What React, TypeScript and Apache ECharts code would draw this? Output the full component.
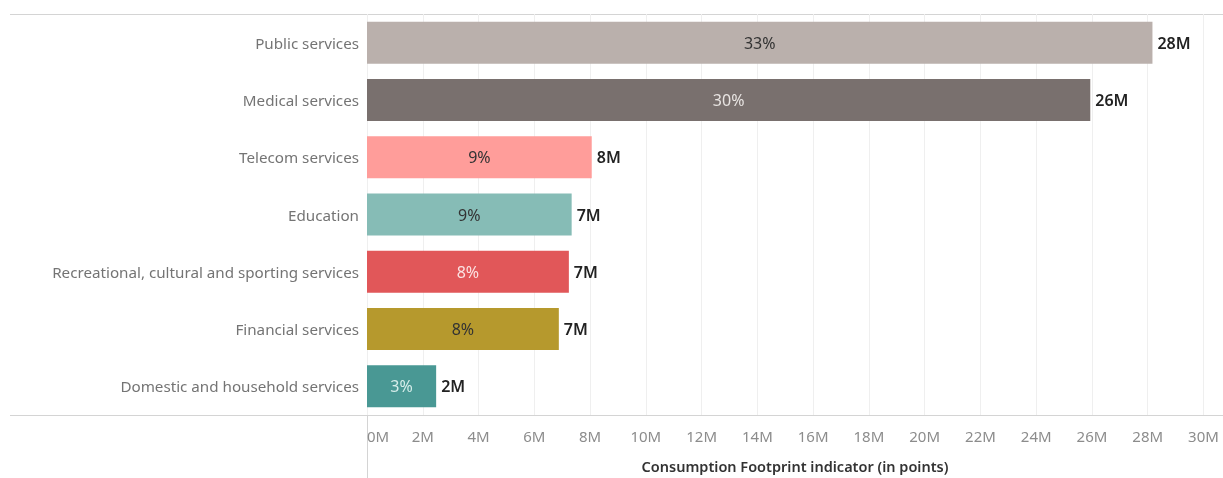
import React, { useEffect, useRef } from "react";
import * as echarts from "echarts";

const categories = [
  "Public services",
  "Medical services",
  "Telecom services",
  "Education",
  "Recreational, cultural and sporting services",
  "Financial services",
  "Domestic and household services",
];
const values = [28.17e6, 25.94e6, 8.06e6, 7.34e6, 7.24e6, 6.88e6, 2.48e6];
const valueLabels = ["28M", "26M", "8M", "7M", "7M", "7M", "2M"];
const percentLabels = ["33%", "30%", "9%", "9%", "8%", "8%", "3%"];
const colors = ["#BAB0AC", "#79706E", "#FF9D9A", "#86BCB6", "#E15759", "#B6992D", "#499894"];
const percentColors = ["#333333", "#E8E4E2", "#333333", "#333333", "#FBE2E2", "#333333", "#D6EDEA"];
const axisTitle = "Consumption Footprint indicator (in points)";

const FONT = "'Noto Sans', sans-serif";

export default function App() {
  const ref = useRef<HTMLDivElement>(null);
  useEffect(() => {
    if (!ref.current) return;
    const chart = echarts.init(ref.current, undefined, { renderer: "svg" });
    const GL = 367;
    const GT = 14;
    const GB = 415;
    chart.setOption({
      animation: false,
      textStyle: { fontFamily: FONT },
      grid: { left: GL, top: GT, right: 0, bottom: 478 - GB, containLabel: false },
      xAxis: {
        type: "value",
        min: 0,
        max: 30.7e6,
        interval: 2e6,
        axisLine: { show: false },
        axisTick: { show: false },
        splitLine: { show: true, lineStyle: { color: "#EFEFEF", width: 1 } },
        axisLabel: {
          color: "#8C8C8C",
          fontSize: 15,
          fontFamily: FONT,
          margin: 13,
          showMaxLabel: false,
          alignMinLabel: "left",
          formatter: (v: number) => `${Math.round(v / 1e6)}M`,
        },
        name: axisTitle,
        nameLocation: "middle",
        nameGap: 43,
        nameTextStyle: { color: "#333", fontSize: 14.5, fontWeight: 600, fontFamily: FONT },
      },
      yAxis: {
        type: "category",
        data: categories,
        inverse: true,
        axisLine: { show: false },
        axisTick: { show: false },
        splitLine: { show: false },
        axisLabel: { color: "#747474", fontSize: 15.2, fontFamily: FONT, margin: 8 },
      },
      series: [
        {
          type: "bar",
          barWidth: 42,
          data: values.map((v, i) => ({
            value: v,
            itemStyle: { color: colors[i] },
            label: { color: percentColors[i] },
          })),
          label: {
            show: true,
            position: "inside",
            fontSize: 16,
            fontFamily: FONT,
            formatter: (p: any) => percentLabels[p.dataIndex],
          },
          z: 2,
        },
        {
          type: "bar",
          barWidth: 42,
          barGap: "-100%",
          data: values,
          itemStyle: { color: "rgba(0,0,0,0)" },
          label: {
            show: true,
            position: "right",
            distance: 5,
            fontSize: 16,
            fontWeight: 600,
            color: "#222",
            fontFamily: FONT,
            formatter: (p: any) => valueLabels[p.dataIndex],
          },
          z: 3,
          silent: true,
        },
      ],
      graphic: [
        { type: "line", shape: { x1: 10, y1: GT + 0.5, x2: 1223, y2: GT + 0.5 }, style: { stroke: "#D4D4D4", lineWidth: 1 } },
        { type: "line", shape: { x1: 10, y1: GB + 0.5, x2: 1223, y2: GB + 0.5 }, style: { stroke: "#D4D4D4", lineWidth: 1 } },
        { type: "line", shape: { x1: GL + 0.5, y1: GT, x2: GL + 0.5, y2: 478 }, style: { stroke: "#D4D4D4", lineWidth: 1 } },
      ],
    });
    return () => chart.dispose();
  }, []);
  return <div ref={ref} style={{ position: "fixed", left: 0, top: 0, width: 1223, height: 478 }} />;
}
